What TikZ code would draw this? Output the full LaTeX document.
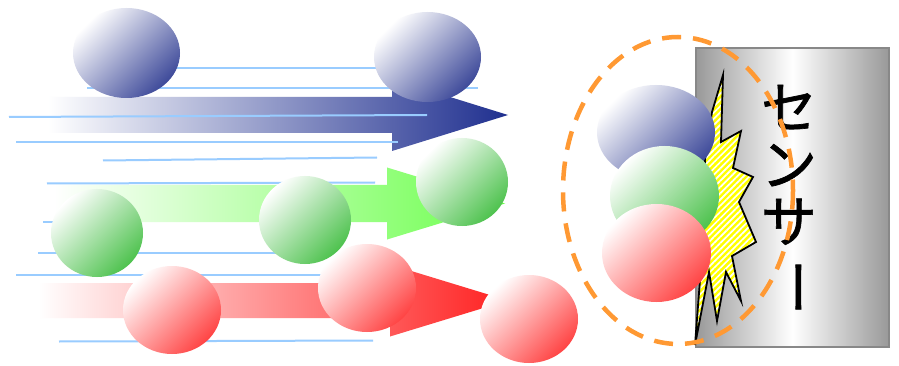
\documentclass[tikz,border=0pt]{standalone}
\usepackage{fontspec}
\usepackage{graphicx}
\newfontfamily\jpfont{Noto Sans CJK JP}[FakeBold=1.2]
\usetikzlibrary{patterns.meta}

\definecolor{streakblue}{HTML}{99CCFF}
\definecolor{ballblue}{HTML}{3E4A9A}
\definecolor{ballgreen}{HTML}{4EC24E}
\definecolor{ballred}{HTML}{FF4444}
\definecolor{arrowblue}{HTML}{1F2F8F}
\definecolor{arrowgreen}{HTML}{6CFF4C}
\definecolor{arrowred}{HTML}{FF2020}
\definecolor{boxgray}{HTML}{999999}
\definecolor{boxedge}{HTML}{888888}
\definecolor{burstyellow}{HTML}{FFFF00}
\definecolor{ringorange}{HTML}{FF9933}

\begin{document}
\begin{tikzpicture}[x=1pt,y=-1pt,
  flow/.style={left color=white, right color=#1},
  ball/.style={top color=white, bottom color=#1, shading angle=45},
  streak/.style={draw=streakblue, line width=2pt},
  ring/.style={draw=ringorange, line width=4.5pt, dash pattern=on 19pt off 12pt},
  burst/.style={preaction={fill=burstyellow},
    pattern={Lines[angle=45,distance=4.4pt,line width=1.7pt]}, pattern color=white,
    draw=black, line width=1.8pt, line join=miter},
  sensorbox/.style={left color=boxgray, right color=boxgray, middle color=white},
  sensortext/.style={font=\jpfont\fontsize{56}{57}\selectfont, align=center, inner sep=0pt}]

\fill[white] (0,0) rectangle (899,366);
\useasboundingbox (0,0) rectangle (899,366);

% flow arrows
\shade[flow=arrowblue] (48,97) -- (392,97) -- (392,79) -- (508,115) -- (392,151) -- (392,133) -- (48,133) -- cycle;
\shade[flow=arrowgreen] (54,185) -- (387,185) -- (387,167.5) -- (505,203.5) -- (387,239.5) -- (387,222) -- (54,222) -- cycle;
\shade[flow=arrowred] (38,283) -- (390,283) -- (390,264.5) -- (508,300.5) -- (390,336.5) -- (390,318) -- (38,318) -- cycle;

% streak lines
\draw[streak] (150,68) -- (400,68);
\draw[streak] (87,88) -- (478,88);
\draw[streak] (9,117) -- (427,115);
\draw[streak] (16,142) -- (398,142);
\draw[streak] (103,160.5) -- (377,157.5);
\draw[streak] (47,183.5) -- (375,182.5);
\draw[streak] (43,222) -- (100,222);
\draw[streak] (38,252.7) -- (300,252.7);
\draw[streak] (16,275) -- (340,275);
\draw[streak] (59,341.5) -- (373,340.5);

% moving particles
\shade[ball=ballblue] (126.5,53) ellipse [x radius=53.5, y radius=45];
\shade[ball=ballblue] (427.5,57) ellipse [x radius=53.5, y radius=45];
\shade[ball=ballgreen] (97,233) ellipse [x radius=46, y radius=44];
\shade[ball=ballgreen] (305,220) ellipse [x radius=46, y radius=44];
\shade[ball=ballgreen] (462,182) ellipse [x radius=46, y radius=44];
\shade[ball=ballred] (172,310) ellipse [x radius=49, y radius=44];
\shade[ball=ballred] (367,288) ellipse [x radius=49, y radius=44];
\shade[ball=ballred] (529,319) ellipse [x radius=49, y radius=44];

% sensor
\shade[sensorbox] (696,48) rectangle (889,347);
\draw[boxedge, line width=1.5pt] (696,48) rectangle (889,347);

% impact burst
\path[burst] (723,75) -- (721,142) -- (741,131) -- (733,168) -- (753,177) -- (739,202)
  -- (756,242) -- (732,256) -- (741,301) -- (726,272) -- (717,321) -- (709,272)
  -- (695,345) -- (700,280) -- (705,160) -- (712,112) -- cycle;

% particles hitting the sensor
\shade[ball=ballblue] (656,132.5) ellipse [x radius=59, y radius=47.5];
\shade[ball=ballgreen] (664.5,196) ellipse [x radius=54.5, y radius=50];
\shade[ball=ballred] (656.5,253) ellipse [x radius=54.5, y radius=49];

% vertical label
\node[sensortext] (label) at (789,200) {セ\\ン\\サ\\\rotatebox[origin=c]{-90}{ー}};

% highlight ring
\draw[ring] (678,190.5) ellipse [x radius=115, y radius=153.5];
\end{tikzpicture}
\end{document}
